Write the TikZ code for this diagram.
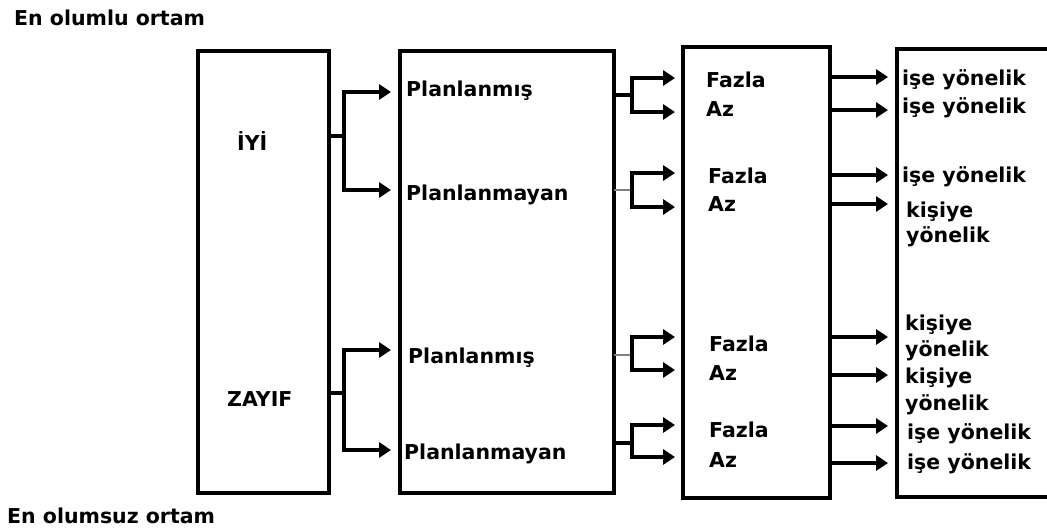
\documentclass[tikz,border=0pt]{standalone}
\usepackage{fontspec}
\setmainfont{DejaVu Sans}
\usetikzlibrary{arrows.meta}
\begin{document}
\begin{tikzpicture}[x=1pt,y=-1pt,
  boxline/.style={line width=3.3pt, draw=black},
  boxnode/.style={boxline, inner sep=0pt, outer sep=0pt},
  lbl/.style={font=\bfseries\fontsize{20.5}{25}\selectfont, inner sep=0pt, anchor=base west},
  conn/.style={line width=3.3pt},
  thinconn/.style={line width=1.3pt, draw=gray},
  arr/.style={line width=3.3pt, -{Triangle[length=12pt,width=15pt]}}]
\useasboundingbox (0,0) rectangle (1047,528);

% boxes
\node[boxnode, minimum width=131pt, minimum height=442pt] (b1) at (263.5,272) {};
\node[boxnode, minimum width=214pt, minimum height=442pt] (b2) at (507,272) {};
\node[boxnode, minimum width=147pt, minimum height=451pt] (b3) at (756.5,272.5) {};
\node[inner sep=0pt, outer sep=0pt, minimum width=160pt, minimum height=448pt] (b4) at (977,273) {};
\draw[boxline] (b4.north east) -- (b4.north west) -- (b4.south west) -- (b4.south east);

% texts
\node[lbl] (t1) at (14,25) {En olumlu ortam};
\node[lbl] (t2) at (7,523) {En olumsuz ortam};
\node[lbl] (iyi) at (237,150) {İYİ};
\node[lbl] (zayif) at (227,406) {ZAYIF};
\node[lbl] (p1) at (406,96) {Planlanmış};
\node[lbl] (p2) at (406,200) {Planlanmayan};
\node[lbl] (p3) at (408,363) {Planlanmış};
\node[lbl] (p4) at (404,459) {Planlanmayan};
\node[lbl] (f1) at (706,87) {Fazla};
\node[lbl] (a1) at (706,116) {Az};
\node[lbl] (f2) at (708,183) {Fazla};
\node[lbl] (a2) at (708,211) {Az};
\node[lbl] (f3) at (709,351) {Fazla};
\node[lbl] (a3) at (709,380) {Az};
\node[lbl] (f4) at (709,437) {Fazla};
\node[lbl] (a4) at (709,467) {Az};
\node[lbl] (r1) at (902,85) {işe yönelik};
\node[lbl] (r2) at (902,113) {işe yönelik};
\node[lbl] (r3) at (902,182) {işe yönelik};
\node[lbl] (r4a) at (906,217) {kişiye};
\node[lbl] (r4b) at (906,242) {yönelik};
\node[lbl] (r5a) at (905,330) {kişiye};
\node[lbl] (r5b) at (905,356) {yönelik};
\node[lbl] (r6a) at (905,383) {kişiye};
\node[lbl] (r6b) at (905,410) {yönelik};
\node[lbl] (r7) at (907,439) {işe yönelik};
\node[lbl] (r8) at (907,469) {işe yönelik};

% box1 -> box2
\coordinate (j1) at (344,136);
\coordinate (j2) at (344,393);
\coordinate (e1) at (391,92);
\coordinate (e2) at (391,190);
\coordinate (e3) at (391,350);
\coordinate (e4) at (391,450);
\draw[conn] (b1.east |- j1) -- (j1);
\draw[conn] (b1.east |- j2) -- (j2);
\draw[arr] (j1) |- (e1);
\draw[arr] (j1) |- (e2);
\draw[arr] (j2) |- (e3);
\draw[arr] (j2) |- (e4);

% box2 -> box3
\coordinate (k1) at (632,95);
\coordinate (k2) at (632,190);
\coordinate (k3) at (632,355);
\coordinate (k4) at (632,443);
\coordinate (h1) at (675,78);
\coordinate (h2) at (675,112);
\coordinate (h3) at (675,173);
\coordinate (h4) at (675,207);
\coordinate (h5) at (675,337);
\coordinate (h6) at (675,370);
\coordinate (h7) at (675,425);
\coordinate (h8) at (675,457);
\draw[conn] (b2.east |- k1) -- (k1);
\draw[thinconn] (b2.east |- k2) -- (k2);
\draw[thinconn] (b2.east |- k3) -- (k3);
\draw[conn] (b2.east |- k4) -- (k4);
\draw[arr] (k1) |- (h1);
\draw[arr] (k1) |- (h2);
\draw[arr] (k2) |- (h3);
\draw[arr] (k2) |- (h4);
\draw[arr] (k3) |- (h5);
\draw[arr] (k3) |- (h6);
\draw[arr] (k4) |- (h7);
\draw[arr] (k4) |- (h8);

% box3 -> box4
\coordinate (g1) at (888,77);
\coordinate (g2) at (888,110);
\coordinate (g3) at (888,175);
\coordinate (g4) at (888,204);
\coordinate (g5) at (888,337);
\coordinate (g6) at (888,375);
\coordinate (g7) at (888,426);
\coordinate (g8) at (888,463);
\foreach \g in {g1,g2,g3,g4,g5,g6,g7,g8}
  \draw[arr] (b3.east |- \g) -- (\g);
\end{tikzpicture}
\end{document}
